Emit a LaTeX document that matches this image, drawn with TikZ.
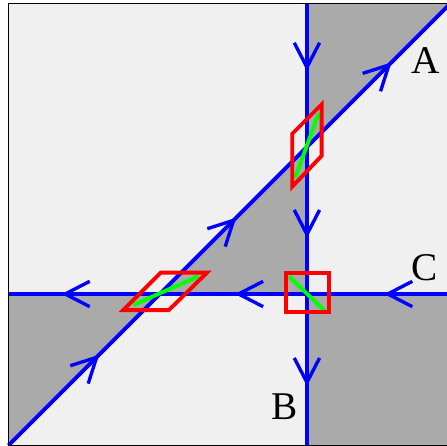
\documentclass[tikz,border=0pt]{standalone}
\usepackage{fontspec}
\setmainfont{Liberation Serif}
\usepackage{tikz}
\usetikzlibrary{arrows.meta,decorations.markings}
\definecolor{planegrey}{RGB}{240,240,240}
\definecolor{regiongrey}{RGB}{170,170,170}
\definecolor{flowblue}{RGB}{0,0,255}
\definecolor{cellred}{RGB}{255,0,0}
\definecolor{diaggreen}{RGB}{0,255,0}
\tikzset{
  axis/.style={draw=flowblue, line width=1.5pt},
  flow/.style={axis, decoration={markings, mark=at position #1 with {\arrow{Straight Barb[length=9.5pt,width=9.8pt,line width=1.3pt,color=flowblue]}}}, postaction={decorate}},
  region/.style={fill=regiongrey},
  cell/.style={draw=cellred, line width=1.5pt},
  diag/.style={draw=diaggreen, line width=1.5pt},
  lbl/.style={font=\fontsize{15.2}{18}\selectfont, inner sep=0pt, text=black},
}
\begin{document}
\begin{tikzpicture}[x=2cm,y=2cm]
  \useasboundingbox (-2.088,-1.034) rectangle (0.953,2.0);
  \coordinate (sw) at (-2.03,-1.03);
  \coordinate (ne) at (0.976,1.976);
  \coordinate (se) at (1.05,-1.1);
  \coordinate (corner) at (1.05,1.976);
  \coordinate (top) at (0,1.976);
  \coordinate (bot) at (0,-1.1);
  \coordinate (east) at (1.05,0);
  \coordinate (west) at (-2.03,0);
  \coordinate (o) at (0,0);
  \coordinate (p) at (-1,0);
  \coordinate (q) at (0,1);
  % plane and shaded regions
  \fill[planegrey] (sw) rectangle (corner);
  \fill[region] (q) -- (top) -- (ne) -- cycle;
  \fill[region] (p) -- (o) -- (q) -- cycle;
  \fill[region] (sw) -- (west) -- (p) -- cycle;
  \fill[region] (o) rectangle (se);
  % flow lines
  \foreach \a/\b/\t in {top/q/0.47, q/o/0.62, o/bot/0.57, east/o/0.5, o/p/0.49, p/west/0.65, sw/p/0.6, p/q/0.52, q/ne/0.59}{
    \draw[flow=\t] (\a) -- (\b);
  }
  % cells at the crossings
  \draw[diag] (-0.08,0.79) -- (0.08,1.23);
  \draw[cell] (-0.1,0.73) -- (0.1,0.94) -- (0.1,1.29) -- (-0.1,1.09) -- cycle;
  \draw[diag] (-1.18,-0.075) -- (-0.74,0.12);
  \draw[cell] (-1.25,-0.11) -- (-0.94,-0.11) -- (-0.68,0.145) -- (-0.995,0.145) -- cycle;
  \draw[diag] (-0.12,0.118) -- (0.127,-0.12);
  \draw[cell] (-0.143,-0.125) rectangle (0.15,0.141);
  % labels
  \node[lbl] (labA) at (0.81,1.59) {A};
  \node[lbl] (labB) at (-0.15,-0.77) {B};
  \node[lbl] (labC) at (0.80,0.18) {C};
  \draw[black, line width=0.6pt] (sw) rectangle (corner);
\end{tikzpicture}
\end{document}
